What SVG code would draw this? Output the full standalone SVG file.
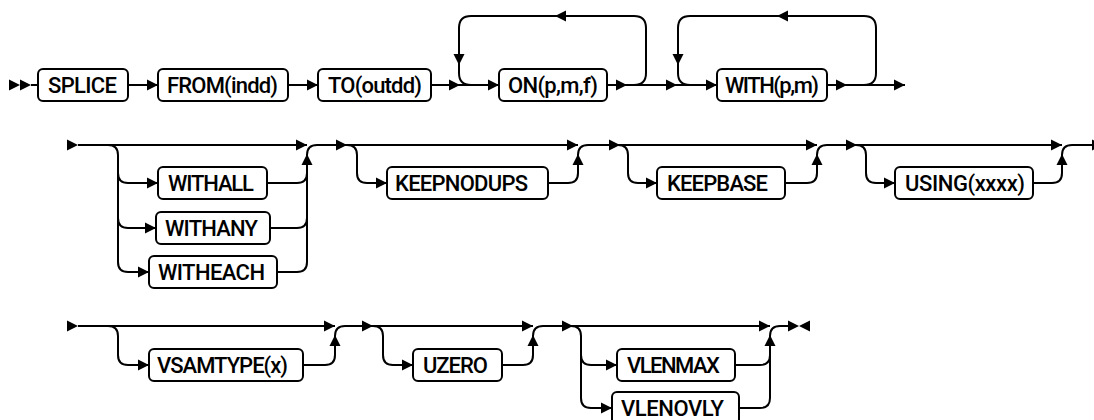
<svg xmlns="http://www.w3.org/2000/svg" xmlns:xlink="http://www.w3.org/1999/xlink" width="1094" height="420" viewBox="0 0 1094 420">
<style>
.ln{fill:none;stroke:#000;stroke-width:2}
.bx{fill:#fff;stroke:#000;stroke-width:2}
.ah{fill:#000;stroke:none}
.tx{font-family:Roboto,"Liberation Sans",Arial,sans-serif;font-weight:500;font-size:22px;fill:#000}
</style>
<defs>
<path id="ah" class="ah" d="M0,0 L-11,-5.5 L-11,5.5 Z"/>
</defs>
<rect width="1094" height="420" fill="#fff"/>
<g id="connectors">
<!-- row 1 -->
<path class="ln" d="M31,85 H38 M128,85 H158 M288,85 H318 M431,85 H499 M607,85 H717 M827,85 H905"/>
<path class="ln" d="M634,85 Q646,85 646,73 V28 Q646,16 634,16 H471 Q459,16 459,28 V73 Q459,85 471,85"/>
<path class="ln" d="M864,85 Q876,85 876,73 V28 Q876,16 864,16 H690 Q678,16 678,28 V73 Q678,85 690,85"/>
<use href="#ah" transform="translate(20,85)"/>
<use href="#ah" transform="translate(31,85)"/>
<use href="#ah" transform="translate(158,85)"/>
<use href="#ah" transform="translate(318,85)"/>
<use href="#ah" transform="translate(460,85)"/>
<use href="#ah" transform="translate(499,85)"/>
<use href="#ah" transform="translate(459,65) rotate(90)"/>
<use href="#ah" transform="translate(555,16) rotate(180)"/>
<use href="#ah" transform="translate(627,85)"/>
<use href="#ah" transform="translate(677,85)"/>
<use href="#ah" transform="translate(717,85)"/>
<use href="#ah" transform="translate(678,65) rotate(90)"/>
<use href="#ah" transform="translate(777,16) rotate(180)"/>
<use href="#ah" transform="translate(847,85)"/>
<use href="#ah" transform="translate(905,85)"/>
<!-- row 2 -->
<path class="ln" d="M78,145 H307"/>
<path class="ln" d="M108,145 Q118,145 118,155 V262 Q118,272 128,272 H149 M118,173 Q118,183 128,183 H158 M118,218 Q118,228 128,228 H156"/>
<path class="ln" d="M267,183 H297 Q307,183 307,173 M270,228 H297 Q307,228 307,218 M277,272 H297 Q307,272 307,262 V155 Q307,145 317,145 H347"/>
<path class="ln" d="M347,145 H578 M347,145 Q357,145 357,155 V173 Q357,183 367,183 H387 M548,183 H568 Q578,183 578,173 V155 Q578,145 588,145 H620"/>
<path class="ln" d="M620,145 H817 M618,145 Q628,145 628,155 V173 Q628,183 638,183 H657 M785,183 H807 Q817,183 817,173 V155 Q817,145 827,145 H857"/>
<path class="ln" d="M857,145 H1062 M856,145 Q866,145 866,155 V173 Q866,183 876,183 H895 M1033,183 H1052 Q1062,183 1062,173 V155 Q1062,145 1072,145 H1094"/>
<use href="#ah" transform="translate(78,145)"/>
<use href="#ah" transform="translate(158,183)"/>
<use href="#ah" transform="translate(156,228)"/>
<use href="#ah" transform="translate(149,272)"/>
<use href="#ah" transform="translate(307,145)"/>
<use href="#ah" transform="translate(307,154) rotate(-90)"/>
<use href="#ah" transform="translate(347,145)"/>
<use href="#ah" transform="translate(387,183)"/>
<use href="#ah" transform="translate(578,145)"/>
<use href="#ah" transform="translate(578,154) rotate(-90)"/>
<use href="#ah" transform="translate(620,145)"/>
<use href="#ah" transform="translate(657,183)"/>
<use href="#ah" transform="translate(817,145)"/>
<use href="#ah" transform="translate(817,154) rotate(-90)"/>
<use href="#ah" transform="translate(857,145)"/>
<use href="#ah" transform="translate(895,183)"/>
<use href="#ah" transform="translate(1062,145)"/>
<use href="#ah" transform="translate(1062,154) rotate(-90)"/>
<use href="#ah" transform="translate(1103,145)"/>
<!-- row 3 -->
<path class="ln" d="M78,326 H335 M108,326 Q118,326 118,336 V355 Q118,365 128,365 H149 M303,365 H325 Q335,365 335,355 V336 Q335,326 345,326 H373"/>
<path class="ln" d="M373,326 H533 M373,326 Q383,326 383,336 V355 Q383,365 393,365 H413 M502,365 H523 Q533,365 533,355 V336 Q533,326 543,326 H573"/>
<path class="ln" d="M573,326 H770 M571,326 Q581,326 581,336 V398 Q581,408 591,408 H612 M581,355 Q581,365 591,365 H617 M735,365 H760 Q770,365 770,355 M739,408 H760 Q770,408 770,398 V336 Q770,326 780,326 H788"/>
<use href="#ah" transform="translate(78,326)"/>
<use href="#ah" transform="translate(149,365)"/>
<use href="#ah" transform="translate(335,326)"/>
<use href="#ah" transform="translate(335,335) rotate(-90)"/>
<use href="#ah" transform="translate(373,326)"/>
<use href="#ah" transform="translate(413,365)"/>
<use href="#ah" transform="translate(533,326)"/>
<use href="#ah" transform="translate(533,335) rotate(-90)"/>
<use href="#ah" transform="translate(573,326)"/>
<use href="#ah" transform="translate(617,365)"/>
<use href="#ah" transform="translate(612,408)"/>
<use href="#ah" transform="translate(770,326)"/>
<use href="#ah" transform="translate(770,335) rotate(-90)"/>
<use href="#ah" transform="translate(799,326)"/>
<use href="#ah" transform="translate(799,326) rotate(180)"/>
</g>
<g id="n-splice"><rect class="bx" x="38" y="69" width="90" height="32" rx="5"/><text class="tx" x="48" y="93" textLength="69">SPLICE</text></g>
<g id="n-from"><rect class="bx" x="158" y="69" width="130" height="32" rx="5"/><text class="tx" x="167" y="93" textLength="111">FROM(indd)</text></g>
<g id="n-to"><rect class="bx" x="318" y="69" width="113" height="32" rx="5"/><text class="tx" x="328" y="93" textLength="94">TO(outdd)</text></g>
<g id="n-on"><rect class="bx" x="499" y="69" width="108" height="32" rx="5"/><text class="tx" x="508" y="93" textLength="90">ON(p,m,f)</text></g>
<g id="n-with"><rect class="bx" x="717" y="69" width="110" height="32" rx="5"/><text class="tx" x="725" y="93" textLength="94">WITH(p,m)</text></g>
<g id="n-withall"><rect class="bx" x="158" y="167" width="109" height="32" rx="5"/><text class="tx" x="168" y="191" textLength="86">WITHALL</text></g>
<g id="n-withany"><rect class="bx" x="156" y="212" width="114" height="32" rx="5"/><text class="tx" x="165" y="236" textLength="93">WITHANY</text></g>
<g id="n-witheach"><rect class="bx" x="149" y="256" width="128" height="32" rx="5"/><text class="tx" x="158" y="280" textLength="107">WITHEACH</text></g>
<g id="n-keepnodups"><rect class="bx" x="387" y="167" width="161" height="32" rx="5"/><text class="tx" x="395" y="191" textLength="133">KEEPNODUPS</text></g>
<g id="n-keepbase"><rect class="bx" x="657" y="167" width="128" height="32" rx="5"/><text class="tx" x="667" y="191" textLength="101">KEEPBASE</text></g>
<g id="n-using"><rect class="bx" x="895" y="167" width="138" height="32" rx="5"/><text class="tx" x="905" y="191" textLength="120">USING(xxxx)</text></g>
<g id="n-vsamtype"><rect class="bx" x="149" y="349" width="154" height="32" rx="5"/><text class="tx" x="157" y="373" textLength="131">VSAMTYPE(x)</text></g>
<g id="n-uzero"><rect class="bx" x="413" y="349" width="89" height="32" rx="5"/><text class="tx" x="423" y="373" textLength="65">UZERO</text></g>
<g id="n-vlenmax"><rect class="bx" x="617" y="349" width="118" height="32" rx="5"/><text class="tx" x="627" y="373" textLength="93">VLENMAX</text></g>
<g id="n-vlenovly"><rect class="bx" x="612" y="392" width="127" height="32" rx="5"/><text class="tx" x="621" y="416" textLength="103">VLENOVLY</text></g>
</svg>
